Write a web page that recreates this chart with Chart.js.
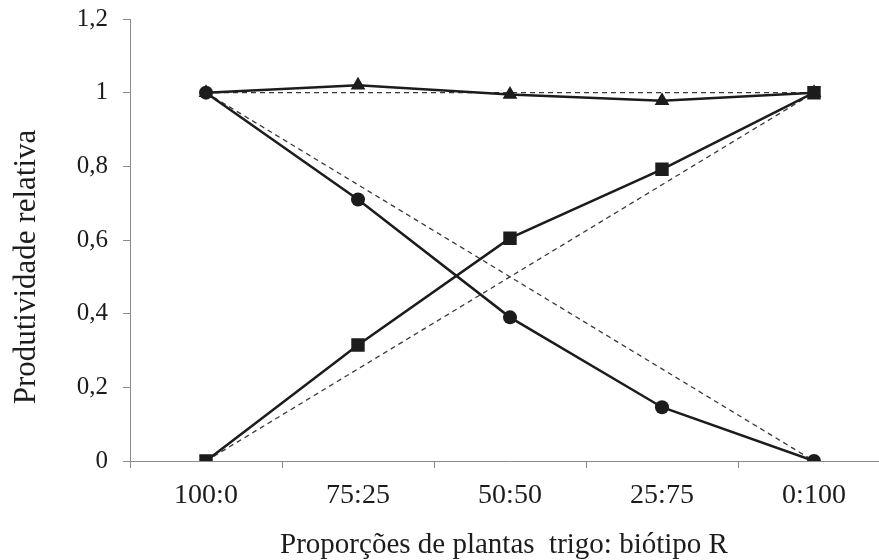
<!DOCTYPE html>
<html>
<head>
<meta charset="utf-8">
<script src="https://cdn.jsdelivr.net/npm/chart.js@4.4.0/dist/chart.umd.min.js"></script>
<style>
  html, body { margin: 0; padding: 0; background: #fff; overflow: hidden; }
  #wrap { width: 900px; height: 560px; }
</style>
</head>
<body>
<div id="wrap"><canvas id="proporcoesChart" width="900" height="560"></canvas></div>
<script>
var proporcoes = ['100:0', '75:25', '50:50', '25:75', '0:100'];
var total = [1, 1.02, 0.995, 0.978, 1];
var trigo = [1, 0.71, 0.39, 0.146, 0];
var biotipoR = [0, 0.315, 0.605, 0.792, 1];
var esperadoTrigo = [1, 0.75, 0.5, 0.25, 0];
var esperadoBiotipo = [0, 0.25, 0.5, 0.75, 1];
var esperadoTotal = [1, 1, 1, 1, 1];
var yTickLabels = ['0', '0,2', '0,4', '0,6', '0,8', '1', '1,2'];

var tituloX = 'Proporções de plantas  trigo: biótipo R';
var tituloY = 'Produtividade relativa';

var serif = '"Liberation Serif", "Times New Roman", serif';
var ink = '#1c1c1c';
var axisGrey = '#8a8a8a';

function dashed(data) {
    return {
        data: data,
        borderColor: '#3a3a3a',
        borderWidth: 1.3,
        borderDash: [5, 4],
        pointRadius: 0,
        fill: false,
        order: 10
    };
}

function solid(data, style, radius, order) {
    return {
        data: data,
        borderColor: ink,
        backgroundColor: ink,
        borderWidth: 2.5,
        pointStyle: style,
        pointRadius: radius,
        pointBorderWidth: 0,
        pointBackgroundColor: ink,
        fill: false,
        order: order
    };
}

// axis titles drawn by hand so they sit where the original has them
var axisTitles = {
    id: 'axisTitles',
    afterDraw: function (chart) {
        var c = chart.ctx;
        c.save();
        c.fillStyle = ink;
        c.textAlign = 'center';
        c.textBaseline = 'alphabetic';
        c.font = '29px ' + serif;
        c.fillText(tituloX, 504, 553);
        c.font = '31px ' + serif;
        c.translate(35, 267);
        c.rotate(-Math.PI / 2);
        c.fillText(tituloY, 0, 0);
        c.restore();
    }
};

var ctx = document.getElementById('proporcoesChart').getContext('2d');
var chart = new Chart(ctx, {
    type: 'line',
    data: {
        labels: proporcoes,
        datasets: [
            dashed(esperadoTrigo),
            dashed(esperadoBiotipo),
            dashed(esperadoTotal),
            solid(total, 'triangle', 8.5, 3),
            solid(biotipoR, 'rect', 9.5, 2),
            solid(trigo, 'circle', 7, 1)
        ]
    },
    options: {
        responsive: false,
        animation: false,
        layout: { padding: { top: 19, right: 10, left: 0, bottom: 0 } },
        plugins: {
            legend: { display: false },
            tooltip: { enabled: false }
        },
        elements: { line: { tension: 0 } },
        scales: {
            x: {
                type: 'category',
                offset: true,
                afterFit: function (s) {
                    s.height = 99;
                    s.paddingLeft = 0;
                    s.paddingRight = 0;
                },
                grid: {
                    offset: true,
                    drawOnChartArea: false,
                    tickLength: 7,
                    color: axisGrey
                },
                border: { color: axisGrey, width: 1 },
                ticks: {
                    color: ink,
                    padding: 11,
                    maxRotation: 0,
                    font: { family: serif, size: 28 }
                }
            },
            y: {
                min: 0,
                max: 1.2,
                afterFit: function (s) {
                    s.width = 130;
                    s.paddingTop = 0;
                    s.paddingBottom = 0;
                },
                grid: {
                    drawOnChartArea: false,
                    tickLength: 7,
                    color: axisGrey
                },
                border: { color: axisGrey, width: 1 },
                ticks: {
                    stepSize: 0.2,
                    color: ink,
                    padding: 15,
                    font: { family: serif, size: 25 },
                    callback: function (value, index) { return yTickLabels[index]; }
                }
            }
        }
    },
    plugins: [axisTitles]
});
</script>
</body>
</html>
